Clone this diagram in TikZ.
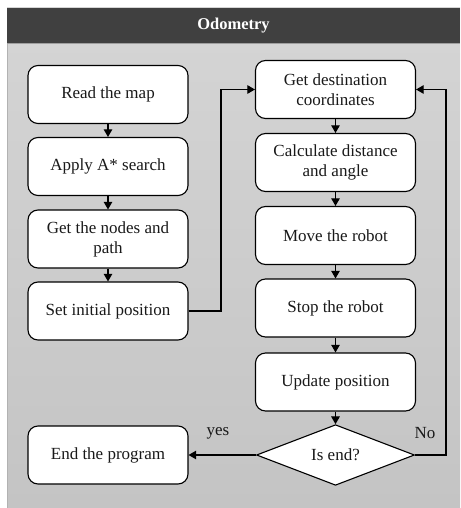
\documentclass[tikz,border=0pt]{standalone}
\usepackage{fontspec}
\setmainfont{Liberation Serif}
\usetikzlibrary{arrows,shapes.geometric}
\definecolor{headgray}{RGB}{64,64,64}
\definecolor{paneltop}{RGB}{213,213,213}
\definecolor{panelbot}{RGB}{196,196,196}

\begin{document}
\begin{tikzpicture}[x=1pt,y=-1pt]
\tikzstyle{every node}=[font=\fontsize{17}{20}\selectfont, text=black!90]
\tikzstyle{stepbox}=[draw,fill=white,rounded corners=10pt,line width=1.1pt,minimum width=160pt,minimum height=58pt,align=center,inner sep=2pt]
\tikzstyle{decision}=[draw,fill=white,diamond,line width=1.1pt,minimum width=158pt,minimum height=56pt,inner sep=0pt]
\tikzstyle{flow}=[-triangle 60,line width=1.1pt]
\useasboundingbox (0,0) rectangle (460,508);
\shade[top color=paneltop,bottom color=panelbot] (7,8) rectangle (460,508);
\draw[gray!60,line width=.6pt] (7,508) -- (7,43);
\fill[headgray] (7,8) rectangle (460,43);
\draw[gray!75,line width=.8pt] (7,43) -- (460,43);
\draw (233.5,25.5) node (title) [text=white,font=\fontsize{16.5}{20}\bfseries] {Odometry};
% left column
\draw (108,94.5) node (readmap) [stepbox] {Read the map};
\draw (108,166.5) node (astar) [stepbox] {Apply A* search};
\draw (108,239) node (getnodes) [stepbox] {Get the nodes and\\path};
\draw (108,311) node (setpos) [stepbox] {Set initial position};
\draw (108,455) node (endprog) [stepbox] {End the program};
% right column
\draw (335.5,89.5) node (dest) [stepbox] {Get destination\\coordinates};
\draw (335.5,162.5) node (calc) [stepbox] {Calculate distance\\and angle};
\draw (335.5,235.5) node (move) [stepbox] {Move the robot};
\draw (335.5,308) node (stop) [stepbox] {Stop the robot};
\draw (335.5,382) node (update) [stepbox] {Update position};
\draw (335.5,455) node (isend) [decision] {Is end?};
\coordinate (bendL) at (221,311);
\coordinate (bendR) at (446,455);
\draw[flow] (readmap) -- (astar);
\draw[flow] (astar) -- (getnodes);
\draw[flow] (getnodes) -- (setpos);
\draw[flow] (setpos) -- (bendL) |- (dest);
\draw[flow] (dest) -- (calc);
\draw[flow] (calc) -- (move);
\draw[flow] (move) -- (stop);
\draw[flow] (stop) -- (update);
\draw[flow] (update) -- (isend);
\draw[flow] (isend) -- (endprog);
\draw[flow] (isend) -- (bendR) |- (dest);
\draw (218,433) node (yes) {yes};
\draw (425,433) node (no) {No};
\end{tikzpicture}
\end{document}
